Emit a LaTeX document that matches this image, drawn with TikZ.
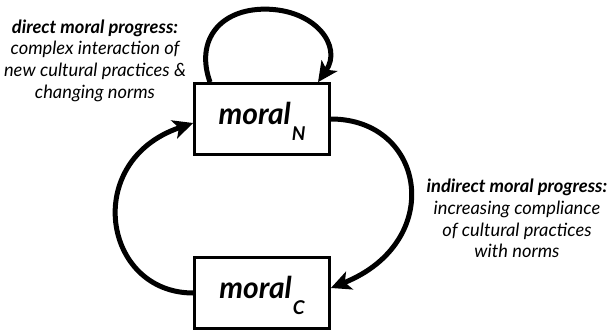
\documentclass[tikz,border=0pt]{standalone}
\usepackage{fontspec}
\setmainfont{Lato}
\usetikzlibrary{arrows.meta,calc}
\begin{document}
\begin{tikzpicture}[x=1pt,y=-1pt,
  box/.style={draw, line width=2.7pt, minimum width=135pt, minimum height=71pt, inner sep=0pt,
    text height=22pt, text depth=12pt, font=\fontsize{30}{30}\selectfont\bfseries\itshape},
  flow/.style={line width=5pt, -{Stealth[length=20pt,width=19pt,inset=5pt]}},
  lbl/.style={align=center, font=\fontsize{18.3}{21.7}\selectfont\itshape}
]
\useasboundingbox (0,0) rectangle (613,332);
\node[box] (N) at (262,119) {moral\kern1pt\raisebox{-16pt}{\fontsize{19}{19}\selectfont N}};
\node[box] (C) at (262,293) {moral\kern1pt\raisebox{-16pt}{\fontsize{19}{19}\selectfont C}};
\draw[flow] (N.east) .. controls +(95,0) and +(115,-46) .. ($(C.east)+(0,-5)$);
\draw[flow] (C.west) .. controls +(-90,0) and +(-112,38) .. ($(N.west)+(0,4)$);
\draw[flow] ($(N.north)+(-52,0)$) .. controls +(-15,-42) and +(-45,0) .. ($(N.north)+(3,-73)$)
  .. controls +(50,0) and +(25,-36) .. ($(N.north)+(56,0)$);
\node[lbl] (dl) at (95,60.5) {{\bfseries direct moral progress:}\\ complex interaction of\\ new cultural practices \&\\ changing norms};
\node[lbl] (il) at (517,218.5) {{\bfseries indirect moral progress:}\\ increasing compliance\\ of cultural practices\\ with norms};
\end{tikzpicture}
\end{document}
